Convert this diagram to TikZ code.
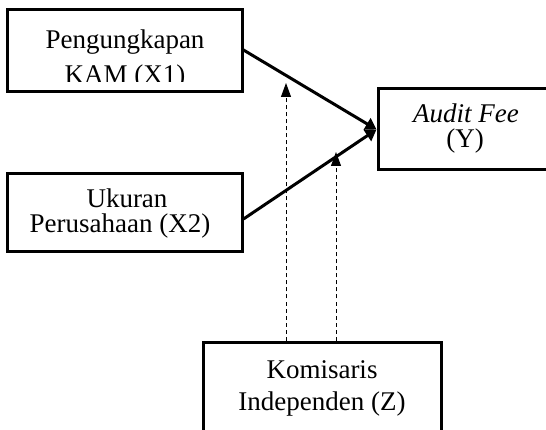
\documentclass[tikz,border=0pt]{standalone}
\usepackage{fontspec}
\setmainfont{Liberation Serif}
\usepackage{tikz}
\usetikzlibrary{arrows.meta}

\begin{document}
\begin{tikzpicture}[line cap=butt,line join=miter,x=1pt,y=-1pt,
  varbox/.style={draw,line width=3pt,inner sep=0pt},
  lbl/.style={anchor=base,inner sep=0pt,font=\fontsize{27}{25}\selectfont},
  mainarrow/.style={line width=3pt,-{Triangle[width=13pt,length=11pt]}},
  modarrow/.style={line width=0.9pt,dash pattern=on 4pt off 3pt,-{Triangle[width=10pt,length=14pt]}}]
\useasboundingbox (0,0) rectangle (546,430);
% variabel
\node[varbox,minimum width=235pt,minimum height=82pt] (x1) at (124.5,51) {};
\node[varbox,minimum width=235pt,minimum height=78pt] (x2) at (124.5,213) {};
\node[varbox,minimum width=177pt,minimum height=81pt] (y) at (466.5,129.5) {};
\node[varbox,minimum width=238pt,minimum height=128pt] (z) at (322,406) {};
% teks
\begin{scope}
\clip (7,10) rectangle (242,81.5);
\node[lbl] (x1a) at (125,49) {Pengungkapan};
\node[lbl] (x1b) at (125,84) {KAM (X1)};
\end{scope}
\node[lbl] (x2a) at (127,208) {Ukuran};
\node[lbl] (x2b) at (120,233) {Perusahaan (X2)};
\node[lbl] (ya) at (466,123) {\itshape Audit Fee};
\node[lbl] (yb) at (465,148) {(Y)};
\node[lbl] (za) at (322,378) {Komisaris};
\node[lbl] (zb) at (322,410) {Independen (Z)};
% panah
\coordinate (m1) at (286,83);
\coordinate (m2) at (336,152);
\draw[mainarrow] ([yshift=1pt]x1.east) -- (y.west);
\draw[mainarrow] ([yshift=-6pt]x2.east) -- (y.west);
\draw[modarrow] (z.north -| m1) -- (m1);
\draw[modarrow] (z.north -| m2) -- (m2);
\end{tikzpicture}
\end{document}
